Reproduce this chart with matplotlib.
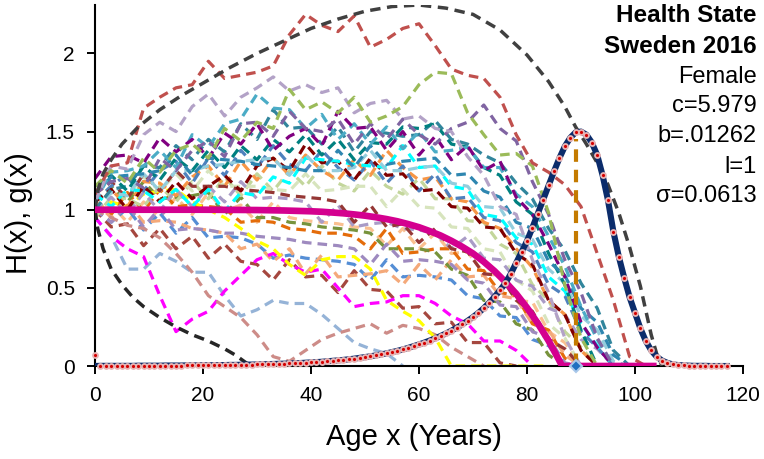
import matplotlib
matplotlib.use("Agg")
import matplotlib.pyplot as plt

plt.rcParams['font.family'] = ['Liberation Sans', 'DejaVu Sans']

# ---------------------------------------------------------------------------
# Simulated health-state paths H_i(x), sampled every 3 years of age
# ---------------------------------------------------------------------------
walk_ages = list(range(0, 106, 3))

path_01 = [1.10, 1.28, 1.30, 1.65, 1.72, 1.78, 1.80, 1.95, 1.84, 1.86, 1.88, 1.92, 2.12, 2.25, 2.18, 2.14,
           2.24, 2.04, 2.09, 2.16, 2.19, 2.05, 1.90, 1.86, 1.84, 1.72, 1.48, 1.30, 1.24, 1.16, 1.02, 0.72,
           0.42, 0.06, 0.00]
path_02 = [1.15, 1.25, 1.17, 1.33, 1.24, 1.38, 1.42, 1.33, 1.52, 1.44, 1.56, 1.52, 1.77, 1.64, 1.69, 1.62,
           1.72, 1.56, 1.60, 1.66, 1.80, 1.88, 1.87, 1.62, 1.48, 1.35, 1.36, 1.28, 0.98, 0.52, 0.18, 0.00]
path_03 = [1.05, 1.28, 1.26, 1.48, 1.56, 1.50, 1.66, 1.74, 1.60, 1.72, 1.78, 1.85, 1.76, 1.80, 1.75, 1.78,
           1.62, 1.68, 1.70, 1.58, 1.60, 1.52, 1.50, 1.34, 1.22, 1.02, 0.97, 0.68, 0.47, 0.18, 0.00]
path_04 = [1.10, 1.18, 1.20, 1.14, 1.33, 1.25, 1.38, 1.44, 1.34, 1.55, 1.56, 1.47, 1.63, 1.52, 1.50, 1.58,
           1.42, 1.55, 1.45, 1.58, 1.48, 1.42, 1.52, 1.56, 1.67, 1.52, 1.44, 1.18, 0.97, 0.68, 0.47, 0.18,
           0.00]
path_05 = [1.20, 1.34, 1.35, 1.30, 1.46, 1.37, 1.45, 1.33, 1.49, 1.42, 1.55, 1.38, 1.47, 1.52, 1.41, 1.63,
           1.52, 1.53, 1.38, 1.50, 1.35, 1.47, 1.32, 1.41, 1.25, 1.31, 1.08, 0.97, 0.78, 0.57, 0.28, 0.12,
           0.00]
path_06 = [1.05, 1.24, 1.25, 1.28, 1.38, 1.27, 1.48, 1.40, 1.55, 1.58, 1.74, 1.65, 1.64, 1.52, 1.61, 1.45,
           1.55, 1.42, 1.53, 1.39, 1.50, 1.37, 1.38, 1.40, 1.27, 1.27, 1.10, 1.02, 0.83, 0.64, 0.38, 0.17,
           0.00]
path_07 = [1.00, 1.13, 1.15, 1.28, 1.27, 1.41, 1.32, 1.45, 1.37, 1.55, 1.45, 1.64, 1.52, 1.53, 1.42, 1.53,
           1.37, 1.50, 1.49, 1.47, 1.48, 1.57, 1.45, 1.42, 1.35, 1.30, 1.17, 1.07, 0.88, 0.74, 0.53, 0.37,
           0.10, 0.00]
path_08 = [1.15, 1.22, 1.12, 1.28, 1.19, 1.33, 1.25, 1.38, 1.27, 1.41, 1.32, 1.45, 1.37, 1.48, 1.35, 1.45,
           1.32, 1.43, 1.42, 1.53, 1.52, 1.55, 1.42, 1.40, 1.27, 1.22, 1.05, 0.97, 0.72, 0.52, 0.23, 0.00]
path_09 = [1.00, 1.13, 1.02, 1.18, 1.17, 1.09, 1.21, 1.28, 1.15, 1.31, 1.19, 1.33, 1.22, 1.35, 1.25, 1.19,
           1.32, 1.22, 1.38, 1.27, 1.19, 1.21, 1.07, 1.05, 0.92, 0.88, 0.75, 0.63, 0.42, 0.33, 0.10, 0.00]
path_10 = [1.05, 1.15, 1.23, 1.12, 1.25, 1.31, 1.17, 1.33, 1.22, 1.38, 1.27, 1.41, 1.29, 1.25, 1.38, 1.27,
           1.19, 1.31, 1.17, 1.28, 1.12, 1.23, 1.07, 1.08, 0.95, 0.93, 0.79, 0.73, 0.52, 0.45, 0.22, 0.12,
           0.00]
path_11 = [0.95, 1.08, 1.07, 1.02, 1.15, 1.05, 1.18, 1.07, 1.21, 1.09, 1.23, 1.12, 1.25, 1.15, 1.28, 1.17,
           1.12, 1.25, 1.15, 1.10, 1.20, 1.07, 1.07, 0.93, 0.92, 0.78, 0.72, 0.52, 0.42, 0.22, 0.12, 0.00]
path_12 = [1.05, 1.13, 1.00, 1.15, 1.05, 1.18, 1.07, 1.15, 1.22, 1.12, 1.28, 1.33, 1.25, 1.42, 1.30, 1.31,
           1.19, 1.33, 1.22, 1.23, 1.12, 1.13, 1.02, 1.01, 0.89, 0.88, 0.72, 0.65, 0.42, 0.33, 0.10, 0.00]
path_13 = [1.10, 1.02, 1.13, 1.12, 1.05, 1.13, 1.02, 1.13, 0.99, 1.11, 1.09, 1.21, 1.17, 1.33, 1.32, 1.31,
           1.29, 1.28, 1.27, 1.41, 1.27, 1.28, 1.15, 1.13, 0.97, 0.95, 0.82, 0.78, 0.57, 0.48, 0.27, 0.13,
           0.00]
path_14 = [1.00, 1.11, 1.09, 1.23, 1.12, 1.25, 1.25, 1.28, 1.29, 1.31, 1.32, 1.33, 1.22, 1.35, 1.25, 1.25,
           1.27, 1.38, 1.25, 1.25, 1.27, 1.28, 1.17, 1.15, 1.02, 1.01, 0.85, 0.81, 0.62, 0.53, 0.32, 0.23,
           0.03, 0.00]
path_15 = [0.95, 1.03, 0.92, 1.05, 0.95, 1.08, 0.97, 1.11, 0.99, 1.03, 0.92, 1.05, 0.95, 0.93, 0.92, 0.91,
           0.89, 0.88, 0.77, 0.88, 0.75, 0.85, 0.72, 0.73, 0.59, 0.58, 0.42, 0.41, 0.22, 0.15, 0.00]
path_16 = [1.05, 0.97, 1.11, 0.99, 1.13, 1.02, 1.03, 1.02, 1.01, 0.92, 0.93, 0.92, 0.88, 0.87, 0.85, 0.85,
           0.83, 0.75, 0.88, 0.72, 0.73, 0.75, 0.75, 0.62, 0.61, 0.47, 0.45, 0.27, 0.23, 0.05, 0.00]
path_17 = [0.95, 0.83, 0.62, 0.62, 0.72, 0.67, 0.60, 0.60, 0.45, 0.32, 0.36, 0.42, 0.40, 0.40, 0.33, 0.24,
           0.15, 0.11, 0.08, 0.00]
path_18 = [0.95, 0.83, 0.75, 0.70, 0.45, 0.22, 0.30, 0.35, 0.48, 0.58, 0.68, 0.72, 0.65, 0.60, 0.62, 0.50,
           0.38, 0.40, 0.41, 0.45, 0.45, 0.40, 0.32, 0.27, 0.16, 0.16, 0.10, 0.00]
path_19 = [1.00, 0.95, 0.90, 0.88, 0.82, 0.72, 0.60, 0.45, 0.38, 0.31, 0.20, 0.06, 0.03, 0.10, 0.17, 0.21,
           0.24, 0.27, 0.21, 0.26, 0.24, 0.20, 0.12, 0.06, 0.00]
path_20 = [1.00, 1.05, 1.02, 1.10, 1.12, 1.13, 1.05, 1.00, 0.95, 0.88, 0.80, 0.75, 0.65, 0.58, 0.68, 0.70,
           0.70, 0.62, 0.42, 0.35, 0.29, 0.18, 0.00, 0.00, 0.00, 0.00, 0.00, 0.00, 0.00]
path_21 = [1.00, 0.89, 0.91, 0.77, 0.88, 0.75, 0.83, 0.69, 0.78, 0.67, 0.65, 0.55, 0.68, 0.57, 0.58, 0.47,
           0.61, 0.49, 0.48, 0.37, 0.38, 0.27, 0.28, 0.15, 0.15, 0.02, 0.00]
path_22 = [1.00, 0.92, 1.01, 0.87, 0.98, 0.85, 0.95, 0.82, 0.83, 0.82, 0.78, 0.69, 0.71, 0.69, 0.68, 0.67,
           0.65, 0.55, 0.68, 0.57, 0.58, 0.57, 0.55, 0.45, 0.43, 0.32, 0.31, 0.17, 0.13, 0.00]
path_23 = [1.05, 0.95, 1.05, 0.92, 0.93, 0.92, 0.88, 0.87, 0.85, 0.75, 0.78, 0.67, 0.75, 0.59, 0.71, 0.57,
           0.58, 0.59, 0.61, 0.52, 0.65, 0.55, 0.68, 0.57, 0.58, 0.45, 0.43, 0.27, 0.23, 0.07, 0.00]
path_24 = [1.05, 1.15, 1.05, 1.18, 1.07, 1.08, 1.09, 1.11, 0.97, 1.08, 0.95, 0.95, 0.92, 0.91, 0.89, 0.88,
           0.87, 0.85, 0.75, 0.75, 0.75, 0.73, 0.62, 0.58, 0.42, 0.41, 0.27, 0.23, 0.07, 0.00]
path_25 = [1.00, 1.08, 0.97, 1.11, 0.99, 1.13, 1.02, 1.15, 1.05, 1.18, 1.07, 1.08, 1.07, 1.05, 0.92, 1.03,
           0.89, 0.91, 0.92, 0.88, 0.87, 0.85, 0.75, 0.83, 0.69, 0.68, 0.55, 0.51, 0.37, 0.33, 0.17, 0.11,
           0.00]
path_26 = [1.10, 1.18, 1.07, 1.23, 1.12, 1.25, 1.15, 1.15, 1.15, 1.13, 1.12, 1.11, 1.09, 1.08, 1.07, 1.05,
           0.92, 1.03, 0.89, 0.91, 0.79, 0.88, 0.75, 0.73, 0.59, 0.58, 0.42, 0.35, 0.17, 0.11, 0.00]
path_27 = [1.00, 0.92, 1.03, 0.89, 1.01, 0.87, 0.88, 0.87, 0.85, 0.85, 0.83, 0.82, 0.81, 0.79, 0.78, 0.77,
           0.75, 0.65, 0.78, 0.67, 0.68, 0.67, 0.65, 0.55, 0.53, 0.39, 0.38, 0.22, 0.18, 0.02, 0.00]
path_28 = [1.10, 1.21, 1.22, 1.23, 1.25, 1.35, 1.22, 1.33, 1.32, 1.31, 1.29, 1.28, 1.27, 1.25, 1.25, 1.38,
           1.27, 1.41, 1.29, 1.31, 1.32, 1.33, 1.22, 1.23, 1.12, 1.08, 0.92, 0.88, 0.67, 0.58, 0.37, 0.28,
           0.07, 0.00]
path_29 = [1.00, 1.11, 1.09, 1.21, 1.12, 1.23, 1.12, 1.25, 1.15, 1.15, 1.15, 1.13, 1.12, 1.23, 1.12, 1.13,
           1.15, 1.15, 1.02, 1.13, 1.02, 1.01, 0.89, 0.88, 0.75, 0.73, 0.55, 0.48, 0.27, 0.18, 0.00]

path_colors = ['#C0504D', '#9BBB59', '#B3A2C7', '#8064A2', '#800080', '#4BACC6', '#31859C', '#008080',
               '#F79646', '#4F81BD', '#C3D69B', '#7F0000', '#00FFFF', '#93CDDD', '#FAC090', '#E46C0A',
               '#95B3D7', '#FF00FF', '#CD8C88', '#FFFF00', '#A5473F', '#558ED5', '#F4A97A', '#77933C',
               '#A99BC6', '#953735', '#9E8ABF', '#2E86B0', '#D7E4BD']

# Envelope of the simulated paths
env_up_age = [0, 0.5, 1.5, 3, 5, 8, 12, 16, 20, 25, 30, 35, 40, 45, 50, 55, 60, 65, 70, 75, 80, 84, 87,
              89, 91, 93, 95, 97, 99, 101, 103, 104, 105]
env_up_val = [1.00, 1.12, 1.23, 1.32, 1.42, 1.53, 1.64, 1.73, 1.81, 1.91, 2.00, 2.08, 2.16, 2.22, 2.27,
              2.30, 2.31, 2.29, 2.25, 2.15, 1.99, 1.82, 1.66, 1.53, 1.42, 1.30, 1.16, 0.98, 0.76, 0.51,
              0.20, 0.08, 0.00]
env_lo_age = [0, 0.5, 1.5, 3, 5, 7, 9, 12, 15, 18, 21, 24, 26, 28, 29]
env_lo_val = [1.00, 0.88, 0.75, 0.62, 0.52, 0.44, 0.38, 0.31, 0.25, 0.20, 0.16, 0.11, 0.07, 0.02, 0.00]

# Mean health state H(x)
h_age = [0, 10, 20, 25, 30, 35, 40, 42, 44, 46, 48, 50, 52, 54, 56, 58, 60, 62, 64, 66, 68, 70, 72, 74,
         76, 78, 80, 82, 84, 85, 86, 86.5, 104]
h_val = [1.000, 1.000, 1.000, 0.999, 0.998, 0.995, 0.990, 0.987, 0.982, 0.977, 0.970, 0.962, 0.952, 0.940,
         0.926, 0.908, 0.888, 0.863, 0.835, 0.801, 0.763, 0.720, 0.667, 0.607, 0.538, 0.462, 0.373, 0.273,
         0.161, 0.098, 0.034, 0.000, 0.000]

# Death distribution g(x): fitted curve and observed values, ages 0..117
g_age = list(range(0, 118))
g_fit = [0.000, 0.001, 0.001, 0.001, 0.001, 0.001, 0.001, 0.001, 0.002, 0.002,
         0.002, 0.002, 0.002, 0.003, 0.003, 0.003, 0.003, 0.004, 0.004, 0.004,
         0.005, 0.005, 0.005, 0.006, 0.006, 0.007, 0.007, 0.008, 0.009, 0.009,
         0.010, 0.011, 0.012, 0.013, 0.014, 0.015, 0.016, 0.018, 0.019, 0.021,
         0.023, 0.025, 0.027, 0.030, 0.033, 0.036, 0.039, 0.043, 0.047, 0.052,
         0.057, 0.062, 0.068, 0.074, 0.081, 0.089, 0.097, 0.106, 0.116, 0.127,
         0.138, 0.150, 0.163, 0.177, 0.192, 0.208, 0.226, 0.245, 0.266, 0.289,
         0.313, 0.340, 0.370, 0.405, 0.443, 0.485, 0.530, 0.590, 0.660, 0.730,
         0.800, 0.885, 0.975, 1.065, 1.155, 1.245, 1.330, 1.405, 1.460, 1.495,
         1.500, 1.480, 1.430, 1.350, 1.220, 1.060, 0.860, 0.700, 0.565, 0.440,
         0.340, 0.240, 0.160, 0.100, 0.060, 0.035, 0.020, 0.010, 0.006, 0.004,
         0.002, 0.001, 0.001, 0.001, 0.000, 0.000, 0.000, 0.000]
g_obs = [0.07] + g_fit[1:]

mode_age = 89.1
mode_height = 1.45

info_lines = ['Health State', 'Sweden 2016', 'Female', 'c=5.979', 'b=.01262', 'l=1', '\u03c3=0.0613']
info_bold = [True, True, False, False, False, False, False]
info_baseline_px = [22, 53, 83, 112, 142, 173, 202]

# ---------------------------------------------------------------------------
W, H = 764, 459
fig = plt.figure(figsize=(W / 100, H / 100), dpi=100)
ax = fig.add_axes([95 / W, 1 - 366 / H, 648 / W, 361 / H])

dash = (3.0, 1.9)
paths = [path_01, path_02, path_03, path_04, path_05, path_06, path_07, path_08, path_09, path_10,
         path_11, path_12, path_13, path_14, path_15, path_16, path_17, path_18, path_19, path_20,
         path_21, path_22, path_23, path_24, path_25, path_26, path_27, path_28, path_29]
draw_order = [14, 15, 20, 21, 22, 23, 26, 16, 17, 18, 19, 10, 28, 24, 25, 8, 9, 11, 12, 13,
              6, 7, 27, 5, 4, 3, 2, 1, 0]
for i in draw_order:
    vals = paths[i]
    ax.plot(walk_ages[:len(vals)], vals, color=path_colors[i], lw=2.3, dashes=dash,
            dash_capstyle='butt', zorder=2)

ax.plot(env_up_age, env_up_val, color='#404040', lw=2.5, dashes=dash, zorder=3)
ax.plot(env_lo_age, env_lo_val, color='#262626', lw=2.5, dashes=dash, zorder=3)

ax.plot(h_age, h_val, color='#D4008F', lw=4.8, solid_capstyle='butt', zorder=4)
ax.plot([mode_age, mode_age], [0, mode_height], color='#C47A00', lw=3.0, dashes=dash, zorder=4)

ax.plot(g_age, g_fit, color='#0B2C6B', lw=4.4, zorder=5)
ax.plot(g_age, g_obs, ls='none', marker='o', ms=3.6, mfc='#D40000', mec='#E8B5B5', mew=1.3,
        zorder=6, clip_on=False)
ax.plot([mode_age], [0], ls='none', marker='D', ms=6.0, mfc='#1F6FC0', mec='#A9C8EA', mew=1.5,
        zorder=7, clip_on=False)

ax.set_xlim(0, 120)
ax.set_ylim(0, 2.31)
ax.set_xticks([0, 20, 40, 60, 80, 100, 120])
ax.set_yticks([0, 0.5, 1, 1.5, 2])
ax.set_yticklabels(['0', '0.5', '1', '1.5', '2'])
for s in ('top', 'right'):
    ax.spines[s].set_visible(False)
for s in ('left', 'bottom'):
    ax.spines[s].set_linewidth(1.5)
    ax.spines[s].set_color('black')
ax.tick_params(axis='both', direction='out', length=5.5, width=1.4, labelsize=15, pad=9, colors='black')

ax.set_xlabel('Age x (Years)', fontsize=21)
ax.xaxis.label.set_va('center')
ax.xaxis.label.set_ha('center')
ax.xaxis.set_label_coords((414 - 95) / 648, (366 - 437) / 361)

ax.set_ylabel('H(x), g(x)', fontsize=21)
ax.yaxis.label.set_va('center')
ax.yaxis.label.set_ha('center')
ax.yaxis.set_label_coords((19 - 95) / 648, (366 - 213) / 361)

for text, bold, base in zip(info_lines, info_bold, info_baseline_px):
    fig.text(757 / W, 1 - base / H, text, ha='right', va='baseline',
             fontsize=17.5 if bold else 17, fontweight='bold' if bold else 'normal', color='black')

fig.savefig('out.png', dpi=100)
